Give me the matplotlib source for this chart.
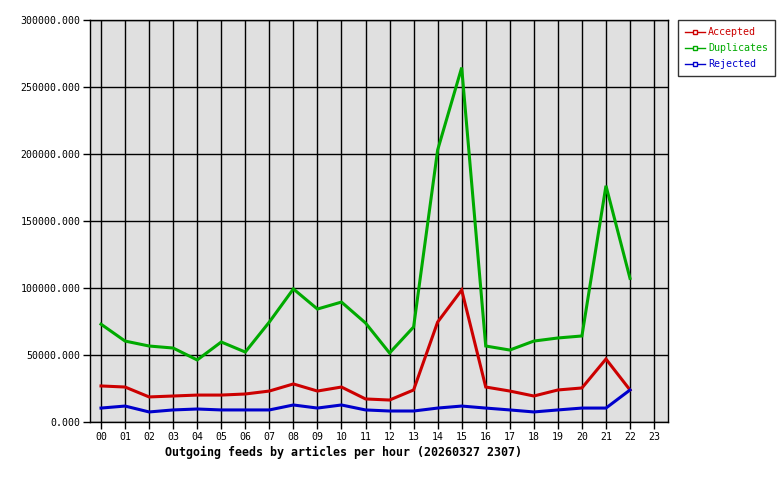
import matplotlib
matplotlib.use("Agg")
import matplotlib.pyplot as plt
from matplotlib.lines import Line2D

hours = [f"{h:02d}" for h in range(24)]
accepted = [26900, 26100, 18700, 19400, 20100, 20100, 20900, 23100, 28400, 23100, 26100, 17200,
            16400, 23900, 74600, 98500, 26100, 23100, 19400, 23900, 25400, 47000, 23900]
duplicates = [73000, 60400, 56700, 55200, 46300, 59700, 52200, 74600, 99300, 84300, 89500, 73900,
              51500, 70900, 203000, 264500, 56700, 53700, 60400, 62700, 64200, 176300, 107200]
rejected = [10400, 11900, 7500, 9000, 9700, 9000, 9000, 9000, 12700, 10400, 12700, 9000,
            8200, 8200, 10400, 11900, 10400, 9000, 7500, 9000, 10400, 10400, 23900]
series_names = ["Accepted", "Duplicates", "Rejected"]
series_colors = ["#cc0000", "#00aa00", "#0000cc"]
yticks = [0, 50000, 100000, 150000, 200000, 250000, 300000]
title = "Outgoing feeds by articles per hour (20260327 2307)"

plt.rcParams['font.family'] = ['DejaVu Sans Mono']
fig = plt.figure(figsize=(7.8, 4.8), dpi=100)
fig.patch.set_facecolor("white")
ax = fig.add_axes([90/780, 58/480, 578/780, 402/480])
ax.set_facecolor("#e0e0e0")

x = list(range(24))
for vals, name, col in zip([accepted, duplicates, rejected], series_names, series_colors):
    ax.plot(x[:len(vals)], vals, color=col, lw=2.2, zorder=3, solid_joinstyle='miter')

ax.set_xlim(-0.458, 23.58)
ax.set_ylim(0, 300000)
ax.set_xticks(x)
ax.set_xticklabels(hours, fontsize=7.1)
ax.set_yticks(yticks)
ax.set_yticklabels([f"{v:.3f}" for v in yticks], fontsize=7.1)
ax.grid(True, color="black", lw=1, zorder=1)
ax.set_axisbelow(True)
for s in ax.spines.values():
    s.set_color("black")
    s.set_linewidth(1)
ax.tick_params(direction='out', length=5, width=1, color='black', pad=2)
fig.text(165/780, 1 - 452/480, title, fontsize=8.36, fontweight='bold', ha='left', va='center')

handles = [Line2D([0], [0], color=c, lw=1, marker='s', markersize=3, markerfacecolor='white',
                  markeredgecolor=c) for c in series_colors]
leg = fig.legend(handles, series_names, loc='upper left', bbox_to_anchor=(678/780, 1 - 20/480),
                 fontsize=7.2, frameon=True, fancybox=False, handlelength=2.0, handletextpad=0.3,
                 borderpad=0.7, labelspacing=0.6, borderaxespad=0)
leg.get_frame().set_edgecolor("black")
leg.get_frame().set_linewidth(1)
for t, c in zip(leg.get_texts(), series_colors):
    t.set_color(c)

fig.savefig("out.png", dpi=100)
